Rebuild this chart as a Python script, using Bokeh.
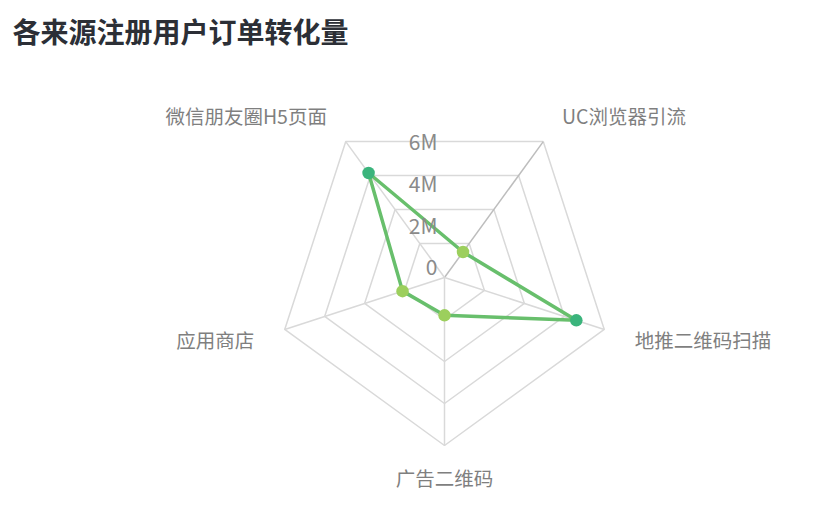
import numpy as np
from bokeh.plotting import figure
from bokeh.models import ColumnDataSource, Range1d, Label, LabelSet
from bokeh.core.properties import value
from bokeh.transform import linear_cmap
from bokeh.embed import file_html
from bokeh.resources import INLINE

# Data (millions), axes listed clockwise starting from the upper-right spoke
categories = ["UC浏览器引流", "地推二维码扫描", "广告二维码", "应用商店", "微信朋友圈H5页面"]
values = [1.5, 6.6, 1.8, 2.1, 6.15]
ring_levels = [2, 4, 6, 8]
tick_values = [0, 2, 4, 6]
tick_labels = ["0", "2M", "4M", "6M"]

FONT = "Noto Sans CJK SC"
PX = 21.0  # pixels per 1M
W, H = 810, 498
cx, cy = 444, H - 277  # centre of radar in canvas px (from left / from bottom)

angles = np.deg2rad(54 - 72 * np.arange(len(categories)))
ca, sa = np.cos(angles), np.sin(angles)

p = figure(
    width=W,
    height=H,
    x_range=Range1d(-cx / PX, (W - cx) / PX),
    y_range=Range1d(-cy / PX, (H - cy) / PX),
    output_backend="svg",
    toolbar_location=None,
    tools="",
    min_border=0,
)
p.axis.visible = False
p.grid.visible = False
p.outline_line_color = None
p.background_fill_color = "white"
p.border_fill_color = "white"

# Grid rings
ring_xs = [list(np.append(r * ca, r * ca[0])) for r in ring_levels]
ring_ys = [list(np.append(r * sa, r * sa[0])) for r in ring_levels]
p.multi_line(ring_xs, ring_ys, line_color="#d9d9d9", line_width=1.5)

# Spokes
rmax = ring_levels[-1]
spoke_x = [[0, rmax * c] for c in ca]
spoke_y = [[0, rmax * s] for s in sa]
spoke_col = ["#bdbdbd"] + ["#d9d9d9"] * (len(categories) - 1)
p.multi_line(spoke_x, spoke_y, line_color=spoke_col, line_width=1.5)

# Tick labels on the vertical
tick_src = ColumnDataSource(dict(
    x=[-7 / PX] * len(tick_values),
    y=[v + 11 / PX for v in tick_values],
    t=tick_labels,
))
p.add_layout(LabelSet(x="x", y="y", text="t", source=tick_src,
                      text_align="right", text_baseline="middle",
                      text_font=value(FONT), text_font_size="21px", text_color="#8a8a8a"))

# Series
vx = np.array(values) * ca
vy = np.array(values) * sa
p.line(list(np.append(vx, vx[0])), list(np.append(vy, vy[0])),
       line_color="#68bf6c", line_width=3.5)
src = ColumnDataSource(dict(x=vx, y=vy, v=values))
p.scatter("x", "y", source=src, size=12.5, line_color=None,
          fill_color=linear_cmap("v", ["#9ccf5d", "#3bb47c"], 0, 8))

# Category labels
lr = 200 / PX
align = ["left" if c > 0.2 else ("right" if c < -0.2 else "center") for c in ca]
for x, y, t, a in zip(lr * ca, lr * sa, categories, align):
    p.add_layout(Label(x=x, y=y, text=t, text_align=a, text_baseline="middle",
                       text_font=FONT, text_font_size="19.5px", text_color="#7f7f7f"))

# Title
p.add_layout(Label(x=(12 - cx) / PX, y=(H - 30 - cy) / PX, text="各来源注册用户订单转化量",
                   text_align="left", text_baseline="middle", text_font=FONT,
                   text_font_size="28px", text_font_style="bold", text_color="#2c2f36"))

open("out.html", "w").write(file_html(p, INLINE))
